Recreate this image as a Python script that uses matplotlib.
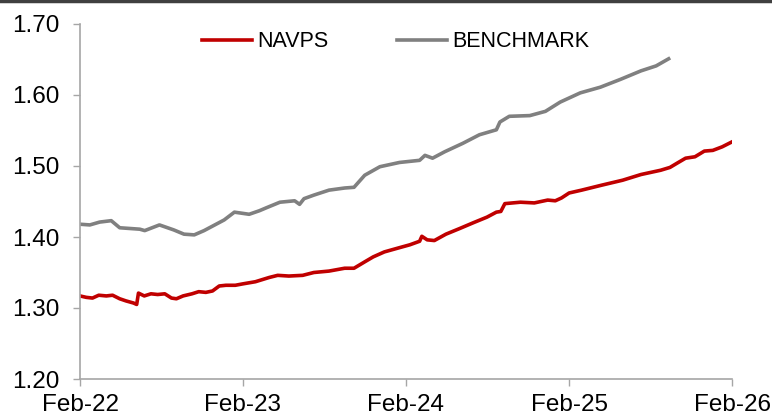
"""NAVPS vs benchmark line chart."""
import matplotlib
matplotlib.use("Agg")
import matplotlib.dates as mdates
import matplotlib.pyplot as plt
import pandas as pd
from matplotlib.lines import Line2D

plt.rcParams["font.family"] = ["Liberation Sans", "DejaVu Sans"]

# values
navps_dates = [
    "2022-02-01", "2022-02-15", "2022-03-01", "2022-03-15", "2022-04-01",
    "2022-04-15", "2022-05-01", "2022-05-15", "2022-06-01", "2022-06-08",
    "2022-06-12", "2022-06-25", "2022-07-10", "2022-07-25", "2022-08-10",
    "2022-08-25", "2022-09-05", "2022-09-20", "2022-10-10", "2022-10-25",
    "2022-11-10", "2022-11-25", "2022-12-10", "2022-12-25", "2023-01-15",
    "2023-02-01", "2023-03-01", "2023-04-01", "2023-04-20", "2023-05-15",
    "2023-06-15", "2023-07-10", "2023-08-13", "2023-09-17", "2023-10-08",
    "2023-11-01", "2023-11-20", "2023-12-15", "2024-01-18", "2024-02-10",
    "2024-03-03", "2024-03-08", "2024-03-20", "2024-04-05", "2024-05-01",
    "2024-06-01", "2024-07-01", "2024-08-01", "2024-08-22", "2024-09-01",
    "2024-09-10", "2024-10-15", "2024-11-15", "2024-12-15", "2025-01-01",
    "2025-01-15", "2025-02-01", "2025-03-01", "2025-04-15", "2025-06-01",
    "2025-07-12", "2025-08-25", "2025-09-15", "2025-10-01", "2025-10-20",
    "2025-11-10", "2025-12-01", "2025-12-20", "2026-01-10", "2026-02-01",
]
navps = [
    1.317, 1.315, 1.314, 1.318, 1.317,
    1.318, 1.313, 1.310, 1.307, 1.305,
    1.321, 1.317, 1.320, 1.319, 1.320,
    1.314, 1.313, 1.317, 1.320, 1.323,
    1.322, 1.324, 1.331, 1.332, 1.332,
    1.334, 1.337, 1.343, 1.346, 1.345,
    1.346, 1.350, 1.352, 1.356, 1.356,
    1.365, 1.372, 1.379, 1.385, 1.389,
    1.394, 1.401, 1.396, 1.395, 1.404,
    1.412, 1.420, 1.428, 1.435, 1.436,
    1.447, 1.449, 1.448, 1.452, 1.451,
    1.455, 1.462, 1.466, 1.473, 1.480,
    1.488, 1.494, 1.498, 1.504, 1.511,
    1.513, 1.521, 1.522, 1.527, 1.534,
]

bench_dates = [
    "2022-02-01", "2022-02-23", "2022-03-17", "2022-04-12", "2022-05-01",
    "2022-06-15", "2022-06-26", "2022-07-29", "2022-08-30", "2022-09-22",
    "2022-10-15", "2022-11-06", "2022-11-30", "2022-12-21", "2023-01-13",
    "2023-02-15", "2023-03-10", "2023-03-25", "2023-04-25", "2023-05-28",
    "2023-06-08", "2023-06-18", "2023-07-10", "2023-08-13", "2023-09-17",
    "2023-10-08", "2023-11-01", "2023-12-05", "2024-01-18", "2024-03-03",
    "2024-03-15", "2024-04-01", "2024-04-28", "2024-06-08", "2024-07-15",
    "2024-08-22", "2024-08-30", "2024-09-20", "2024-11-05", "2024-12-10",
    "2025-01-12", "2025-02-26", "2025-04-12", "2025-05-27", "2025-07-12",
    "2025-08-15", "2025-09-12",
]
bench = [
    1.418, 1.417, 1.421, 1.423, 1.413,
    1.411, 1.409, 1.417, 1.410, 1.404,
    1.403, 1.409, 1.417, 1.424, 1.435,
    1.432, 1.437, 1.441, 1.449, 1.451,
    1.446, 1.454, 1.459, 1.466, 1.469,
    1.470, 1.487, 1.499, 1.505, 1.508,
    1.515, 1.511, 1.520, 1.532, 1.544,
    1.551, 1.562, 1.570, 1.571, 1.577,
    1.590, 1.603, 1.611, 1.622, 1.634,
    1.641, 1.651,
]

tick_dates = ["2022-02-01", "2023-02-01", "2024-02-01", "2025-02-01", "2026-02-01"]
y_ticks = [1.20, 1.30, 1.40, 1.50, 1.60, 1.70]

RED = "#c00000"
GREY = "#808080"
AXIS = "#a6a6a6"

fig = plt.figure(figsize=(7.72, 4.19), dpi=100)
ax = fig.add_axes([80 / 772, 40 / 419, 652 / 772, 355 / 419])

ax.plot(pd.to_datetime(navps_dates), navps, color=RED, lw=2.6, label="NAVPS")
ax.plot(pd.to_datetime(bench_dates), bench, color=GREY, lw=2.6, label="BENCHMARK")

ticks = pd.to_datetime(tick_dates)
ax.set_xlim(ticks[0], ticks[-1])
ax.set_xticks(ticks)
ax.xaxis.set_major_formatter(mdates.DateFormatter("%b-%y"))
ax.set_ylim(1.20, 1.70)
ax.set_yticks(y_ticks)
ax.set_yticklabels([f"{v:.2f}" for v in y_ticks])

for side in ("top", "right"):
    ax.spines[side].set_visible(False)
for side in ("left", "bottom"):
    ax.spines[side].set_color(AXIS)
    ax.spines[side].set_linewidth(1.2)
ax.tick_params(axis="both", direction="out", length=5, width=1, color=AXIS,
               labelsize=17.5, labelcolor="black")
ax.tick_params(axis="y", pad=10)
ax.tick_params(axis="x", pad=6)

ax.legend(loc="upper left", bbox_to_anchor=(122 / 652, 0.979), ncol=2,
          frameon=False, fontsize=15.5, handlelength=2.33, handletextpad=0.23,
          columnspacing=3.2, borderaxespad=0, borderpad=0)

# dark rule along the top of the picture
fig.add_artist(Line2D([0, 1], [1 - 1 / 419, 1 - 1 / 419],
                      transform=fig.transFigure, color="#404040", lw=2.5))

fig.savefig("out.png", dpi=100)
